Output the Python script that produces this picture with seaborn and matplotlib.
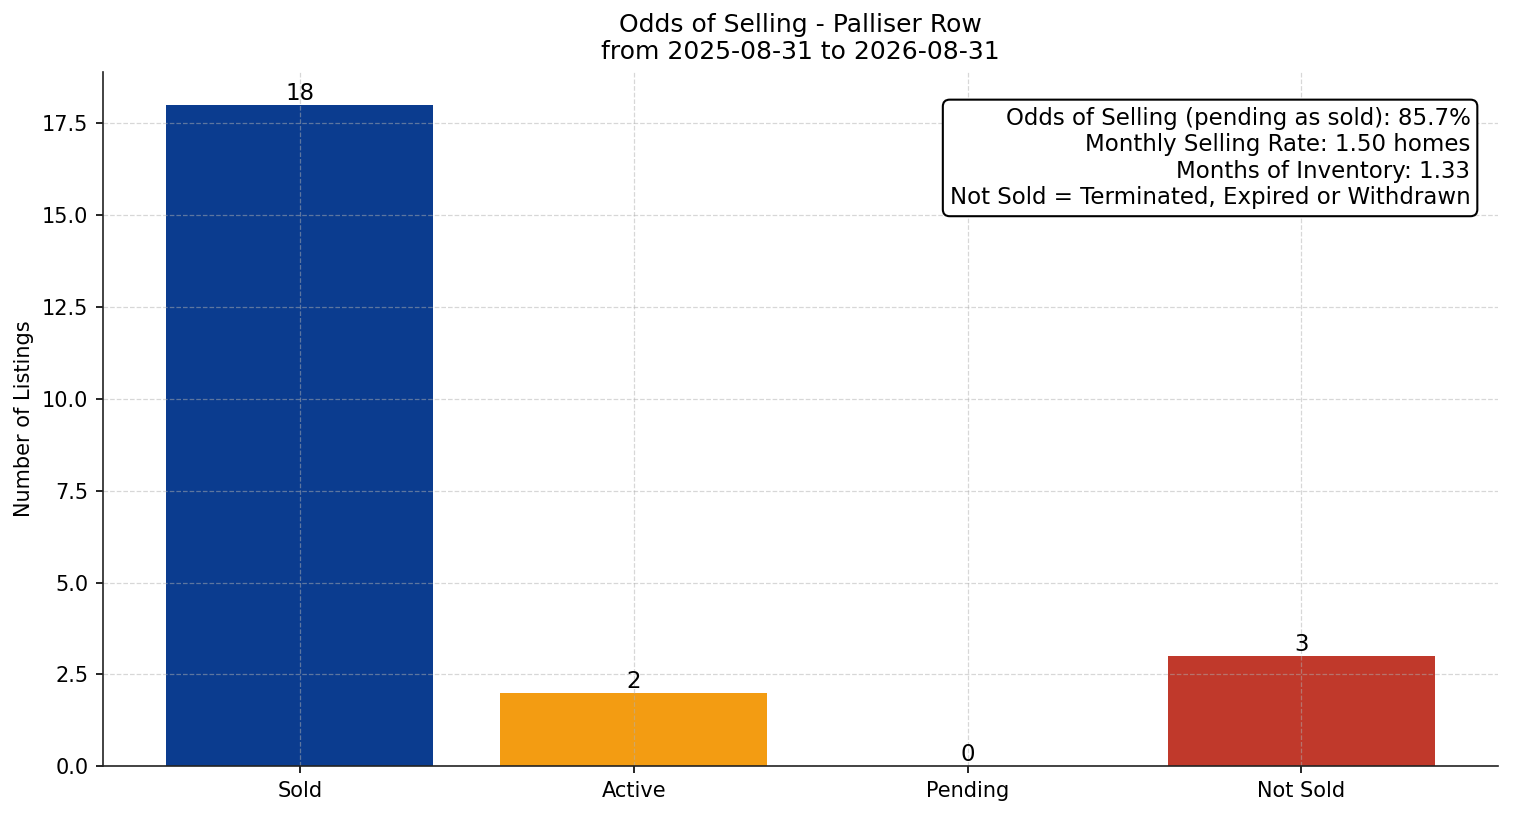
import matplotlib
matplotlib.use("Agg")
import matplotlib.pyplot as plt
import seaborn as sns
import pandas as pd

# chart data
statuses = ["Sold", "Active", "Pending", "Not Sold"]
counts = [18, 2, 0, 3]
bar_colors = ["#0B3C8F", "#F39C12", "#7F8C8D", "#C0392B"]

odds_selling = 85.7
monthly_rate = 1.50
months_inventory = 1.33

df = pd.DataFrame({"status": statuses, "count": counts})

fig, ax = plt.subplots(figsize=(10.09, 5.44), dpi=150)
sns.barplot(data=df, x="status", y="count", hue="status",
            palette=dict(zip(statuses, bar_colors)), width=0.8,
            saturation=1, legend=False, ax=ax)

# value labels on top of each bar
for cont in ax.containers:
    ax.bar_label(cont, fontsize=11)

# matplotlib-style 5% margin around the bars
ax.set_xlim(-0.4 - 0.19, len(statuses) - 1 + 0.4 + 0.19)

ax.set_title("Odds of Selling - Palliser Row\nfrom 2025-08-31 to 2026-08-31", fontsize=12)
ax.set_xlabel("")
ax.set_ylabel("Number of Listings", fontsize=10)
ax.tick_params(labelsize=10)
ax.grid(True, linestyle="--", linewidth=0.6, alpha=0.5)
ax.set_axisbelow("line")
ax.spines["top"].set_visible(False)
ax.spines["right"].set_visible(False)
ax.spines["left"].set_color("#222222")
ax.spines["bottom"].set_color("#222222")

info = (f"Odds of Selling (pending as sold): {odds_selling:.1f}%\n"
        f"Monthly Selling Rate: {monthly_rate:.2f} homes\n"
        f"Months of Inventory: {months_inventory:.2f}\n"
        "Not Sold = Terminated, Expired or Withdrawn")
ax.text(0.98, 0.95, info, transform=ax.transAxes, ha="right", va="top",
        fontsize=11, bbox=dict(boxstyle="round,pad=0.3", facecolor="white",
                               edgecolor="black", linewidth=1))

fig.subplots_adjust(left=0.068, right=0.990, top=0.912, bottom=0.061)
plt.savefig("out.png", dpi=150)
